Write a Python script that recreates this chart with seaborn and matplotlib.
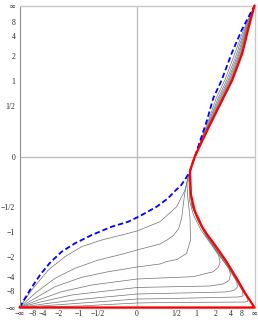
import numpy as np
import matplotlib
matplotlib.use("Agg")
import matplotlib.pyplot as plt
import seaborn as sns

inf = np.inf

# tick values (both axes use the same squashed scale) and their labels
tick_values = [-inf, -8, -4, -2, -1, -0.5, 0, 0.5, 1, 2, 4, 8, inf]
tick_labels = ['\u2212\u221e', '\u22128', '\u22124', '\u22122', '\u22121', '\u22121/2',
               '0', '1/2', '1', '2', '4', '8', '\u221e']

# curves, in plain (unsquashed) units
blue_x = [-inf, -10.2, -4.73, -2.85, -1.785, -1.117, -0.627, -0.274, -0.080, 0.026,
          0.2015, 0.358, 0.478, 0.605, 0.715, 0.822, 0.889, 0.97,
          1.156, 1.458, 1.852, 2.583, 4.155, 8.183, inf]
blue_y = [-inf, -7.63, -3.65, -2.37, -1.706, -1.352, -1.083, -0.869, -0.760, -0.650,
          -0.498, -0.383, -0.296, -0.233, -0.166, -0.106, -0.052, 0,
          0.112, 0.304, 0.632, 1.027, 2.16, 5.16, inf]

red_x = [-inf, inf, 23.0, 11.4, 7.39, 5.53, 4.13, 3.05, 2.255, 1.866, 1.5, 1.238, 1.117, 1.026,
         0.958, 0.886, 0.850, 0.836, 0.822, 0.889, 0.97,
         1.238, 1.745, 2.766, 4.294, 8.634, 17.08, inf]
red_y = [-inf, -inf, -19.1, -9.42, -5.71, -4.12, -3.03, -2.18, -1.626, -1.341, -1.083, -0.869, -0.726, -0.632,
         -0.549, -0.405, -0.342, -0.233, -0.106, -0.052, 0,
         0.112, 0.304, 0.632, 1.027, 2.16, 5.16, inf]

gray1_x = [-inf, -8.63, -3.08, -1.583, -0.889, -0.429, -0.150, 0, 0.243, 0.510, 0.691, 0.775,
           0.822, 0.889, 0.97, 1.180, 1.538, 2.076, 2.970, 4.995, 9.684, inf]
gray1_y = [-inf, -7.63, -3.03, -1.97, -1.483, -1.237, -1.083, -0.974, -0.760, -0.498, -0.285, -0.154,
           -0.106, -0.052, 0, 0.112, 0.304, 0.632, 1.027, 2.16, 5.16, inf]

gray2_x = [-inf, -6.58, -2.31, -1.117, -0.491, -0.150, 0, 0.243, 0.343, 0.447, 0.546, 0.614, 0.643,
           0.679, 0.749, 0.822, 0.889, 0.97, 1.196, 1.588, 2.228, 3.243, 5.640, 10.86, inf]
gray2_y = [-inf, -9.64, -4.17, -2.85, -2.18, -1.838, -1.626, -1.378, -1.237, -1.097, -0.923, -0.687, -0.502,
           -0.342, -0.184, -0.106, -0.052, 0, 0.112, 0.304, 0.632, 1.027, 2.16, 5.16, inf]

gray3_x = [-inf, -6.58, -2.31, -0.889, -0.323, 0, 0.243, 0.343, 0.516, 0.728, 0.836, 0.822, 0.754,
           0.767, 0.822, 0.889, 0.97, 1.204, 1.629, 2.357, 3.484, 6.252, 11.92, inf]
gray3_y = [-inf, -15.4, -6.26, -4.0, -3.22, -2.73, -2.47, -2.28, -2.145, -1.797, -1.237, -0.687, -0.342,
           -0.203, -0.106, -0.052, 0, 0.112, 0.304, 0.632, 1.027, 2.16, 5.16, inf]

gray4_x = [-inf, -5.25, -1.785, -0.627, 0, 0.243, 0.920, 1.852, 2.264, 2.41, 2.264, 1.732, 1.196,
           0.926, 0.802, 0.808, 0.822, 0.889, 0.97, 1.217, 1.665, 2.466, 3.682, 6.782, 12.99, inf]
gray4_y = [-inf, -19.1, -8.56, -5.71, -4.30, -4.12, -3.90, -3.22, -2.73, -2.318, -1.876, -1.416, -0.948,
           -0.632, -0.405, -0.233, -0.106, -0.052, 0, 0.112, 0.304, 0.632, 1.027, 2.16, 5.16, inf]

gray5_x = [-inf, -4.29, -1.251, 0, 0.243, 1.64, 2.73, 3.61, 3.89, 3.61, 2.67, 2.01, 1.398, 1.061,
           0.865, 0.816, 0.822, 0.889, 0.97, 1.221, 1.689, 2.560, 3.877, 7.333, 13.88, inf]
gray5_y = [-inf, -25.0, -11.08, -6.55, -6.36, -6.03, -5.43, -4.59, -3.65, -2.82, -2.18, -1.626, -1.083, -0.726,
           -0.473, -0.285, -0.106, -0.052, 0, 0.112, 0.304, 0.632, 1.027, 2.16, 5.16, inf]

gray6_x = [-inf, -3.08, -0.889, 0, 0.243, 2.98, 4.73, 5.91, 5.53, 4.22, 2.85, 2.09, 1.448, 1.091,
           0.886, 0.827, 0.822, 0.889, 0.97, 1.229, 1.714, 2.638, 4.022, 7.772, 14.67, inf]
gray6_y = [-inf, -35.0, -17.4, -10.19, -9.79, -8.74, -7.88, -6.36, -4.70, -3.51, -2.28, -1.649, -1.097, -0.736,
           -0.488, -0.296, -0.106, -0.052, 0, 0.112, 0.304, 0.632, 1.027, 2.16, 5.16, inf]

gray7_x = [-inf, -2.31, 0, 0.243, 6.12, 9.22, 8.79, 5.71, 3.35, 2.20, 1.5, 1.106, 0.901, 0.833,
           0.822, 0.889, 0.97, 1.234, 1.726, 2.695, 4.155, 8.183, 15.31, inf]
gray7_y = [-inf, -59, -16.8, -16.2, -13.4, -12.1, -8.15, -4.92, -2.55, -1.673, -1.112, -0.746, -0.488, -0.296,
           -0.106, -0.052, 0, 0.112, 0.304, 0.632, 1.027, 2.16, 5.16, inf]

gray8_x = [-inf, -0.942, 0, 0.243, 11.36, 17.1, 13.7, 8.40, 5.91, 3.43, 2.246, 1.516, 1.117, 0.904,
           0.836, 0.822, 0.889, 0.97, 1.234, 1.739, 2.730, 4.222, 8.398, 15.78, inf]
gray8_y = [-inf, -100, -32.5, -29.8, -26.5, -22.2, -13.4, -7.39, -4.70, -2.55, -1.673, -1.112, -0.746, -0.488,
           -0.296, -0.106, -0.052, 0, 0.112, 0.304, 0.632, 1.027, 2.16, 5.16, inf]

grays = [(gray1_x, gray1_y), (gray2_x, gray2_y), (gray3_x, gray3_y), (gray4_x, gray4_y),
         (gray5_x, gray5_y), (gray6_x, gray6_y), (gray7_x, gray7_y), (gray8_x, gray8_y)]


def squash(v):
    # maps the whole real line (with +-inf) onto [-1, 1]
    v = np.asarray(v, dtype=float)
    with np.errstate(invalid='ignore'):
        out = v / (1 + np.abs(v))
    return np.where(np.isinf(v), np.sign(v), out)


sns.set_style('white')
plt.rcParams['font.family'] = ['Liberation Serif', 'DejaVu Serif']

fig = plt.figure(figsize=(2.58, 3.22), dpi=100)
ax = fig.add_axes([19.5 / 258, 1 - 307.5 / 322, 235 / 258, 302 / 322])

ax.axvline(0, color='#bdbdbd', lw=1.0, zorder=0)
ax.axhline(0, color='#bdbdbd', lw=1.0, zorder=0)

for gx, gy in grays:
    sns.lineplot(x=squash(gx), y=squash(gy), sort=False, estimator=None, ax=ax,
                 color='#707070', lw=0.5, clip_on=False)

sns.lineplot(x=squash(blue_x), y=squash(blue_y), sort=False, estimator=None, ax=ax,
             color='#0000ff', lw=1.3, linestyle=(0, (3, 1.6)), clip_on=False)
sns.lineplot(x=squash(red_x), y=squash(red_y), sort=False, estimator=None, ax=ax,
             color='#ff0000', lw=1.6, clip_on=False, zorder=5)

ax.set_xlim(-1, 1)
ax.set_ylim(-1, 1)
ticks = squash(tick_values)
ax.set_xticks(ticks)
ax.set_xticklabels(tick_labels)
ax.set_yticks(ticks)
ax.set_yticklabels(tick_labels)

for side in ['top', 'right', 'left', 'bottom']:
    ax.spines[side].set_color('#c8c8c8')
    ax.spines[side].set_linewidth(1.0)
ax.spines['left'].set_color('#909090')
ax.spines['left'].set_linewidth(0.8)

ax.tick_params(axis='x', direction='in', length=2.2, width=0.5, color='#909090',
               labelsize=5.6, pad=2)
ax.tick_params(axis='y', direction='out', length=2.2, width=0.5, color='#909090',
               labelsize=5.6, pad=0.8)
ax.set_xlabel('')
ax.set_ylabel('')
ax.grid(False)

fig.savefig('out.png', dpi=100)
